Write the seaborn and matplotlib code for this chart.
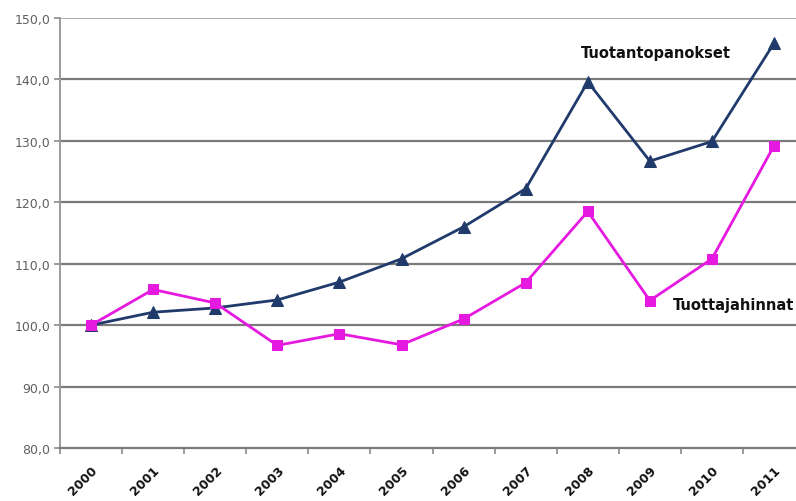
import matplotlib
matplotlib.use("Agg")
import matplotlib.pyplot as plt
import seaborn as sns
import pandas as pd
import numpy as np
from matplotlib.ticker import FixedLocator, FuncFormatter

years = ["2000", "2001", "2002", "2003", "2004", "2005",
         "2006", "2007", "2008", "2009", "2010", "2011"]
tuotantopanokset = [100.0, 102.1, 102.8, 104.1, 107.0, 110.8,
                    116.0, 122.2, 139.6, 126.7, 129.9, 145.9]
tuottajahinnat = [100.0, 105.8, 103.6, 96.7, 98.6, 96.8,
                  101.0, 106.9, 118.5, 104.0, 110.8, 129.2]
series_names = ["Tuotantopanokset", "Tuottajahinnat"]
y_ticks = [80, 90, 100, 110, 120, 130, 140, 150]

idx = np.arange(len(years))
df = pd.DataFrame({
    "i": np.concatenate([idx, idx]),
    "value": tuotantopanokset + tuottajahinnat,
    "series": [series_names[0]] * len(years) + [series_names[1]] * len(years),
})

sns.set_style("white")
plt.rcParams["font.family"] = ["DejaVu Sans"]

fig = plt.figure(figsize=(7.96, 5.02), dpi=100)
ax = fig.add_axes([0.0754, 0.1056, 0.936, 0.8566])

palette = {series_names[0]: "#1f3a6b", series_names[1]: "#e619e0"}
markers = {series_names[0]: "^", series_names[1]: "s"}
sizes = {series_names[0]: 8, series_names[1]: 6.5}

for name in series_names:
    sub = df[df["series"] == name]
    sns.lineplot(data=sub, x="i", y="value", color=palette[name],
                 marker=markers[name], markersize=sizes[name],
                 markeredgecolor=palette[name], linewidth=2.0,
                 ax=ax, legend=False, zorder=3)

ax.set_xlim(-0.5, len(years) - 0.5)
ax.set_ylim(80, 150)
ax.set_xlabel("")
ax.set_ylabel("")

# horizontal gridlines; the top one is lighter
for v in y_ticks[1:]:
    if v == y_ticks[-1]:
        ax.axhline(v, color="#a8a8a8", linewidth=1.3, zorder=1)
    else:
        ax.axhline(v, color="#7a7a7a", linewidth=1.6, zorder=1)

ax.yaxis.set_major_locator(FixedLocator(y_ticks))
ax.yaxis.set_major_formatter(FuncFormatter(lambda v, p: f"{v:.1f}".replace(".", ",")))
ax.tick_params(axis="y", which="major", length=4, width=1.2, color="#8a8a8a",
               labelsize=9, labelcolor="#606060", pad=3, left=True)

# category boundaries carry tick marks, category centres carry labels
ax.xaxis.set_major_locator(FixedLocator(np.arange(len(years) + 1) - 0.5))
ax.xaxis.set_major_formatter(FuncFormatter(lambda v, p: ""))
ax.xaxis.set_minor_locator(FixedLocator(idx))
ax.set_xticks(idx, years, minor=True)
ax.tick_params(axis="x", which="major", length=4, width=1.2, color="#8a8a8a", bottom=True)
ax.tick_params(axis="x", which="minor", length=0, pad=11)
for lbl in ax.get_xticklabels(minor=True):
    lbl.set_rotation(45)
    lbl.set_ha("right")
    lbl.set_rotation_mode("anchor")
    lbl.set_fontweight("bold")
    lbl.set_fontsize(9)
    lbl.set_color("#111111")

for s in ["top", "right"]:
    ax.spines[s].set_visible(False)
ax.spines["left"].set_color("#9a9a9a")
ax.spines["left"].set_linewidth(1.4)
ax.spines["bottom"].set_color("#7a7a7a")
ax.spines["bottom"].set_linewidth(1.6)

ax.text(9.1, 144.3, series_names[0], fontsize=10.5, fontweight="bold",
        ha="center", va="center", color="#111111")
ax.text(9.37, 103.4, series_names[1], fontsize=10.5, fontweight="bold",
        ha="left", va="center", color="#111111")

fig.savefig("out.png", dpi=100)
